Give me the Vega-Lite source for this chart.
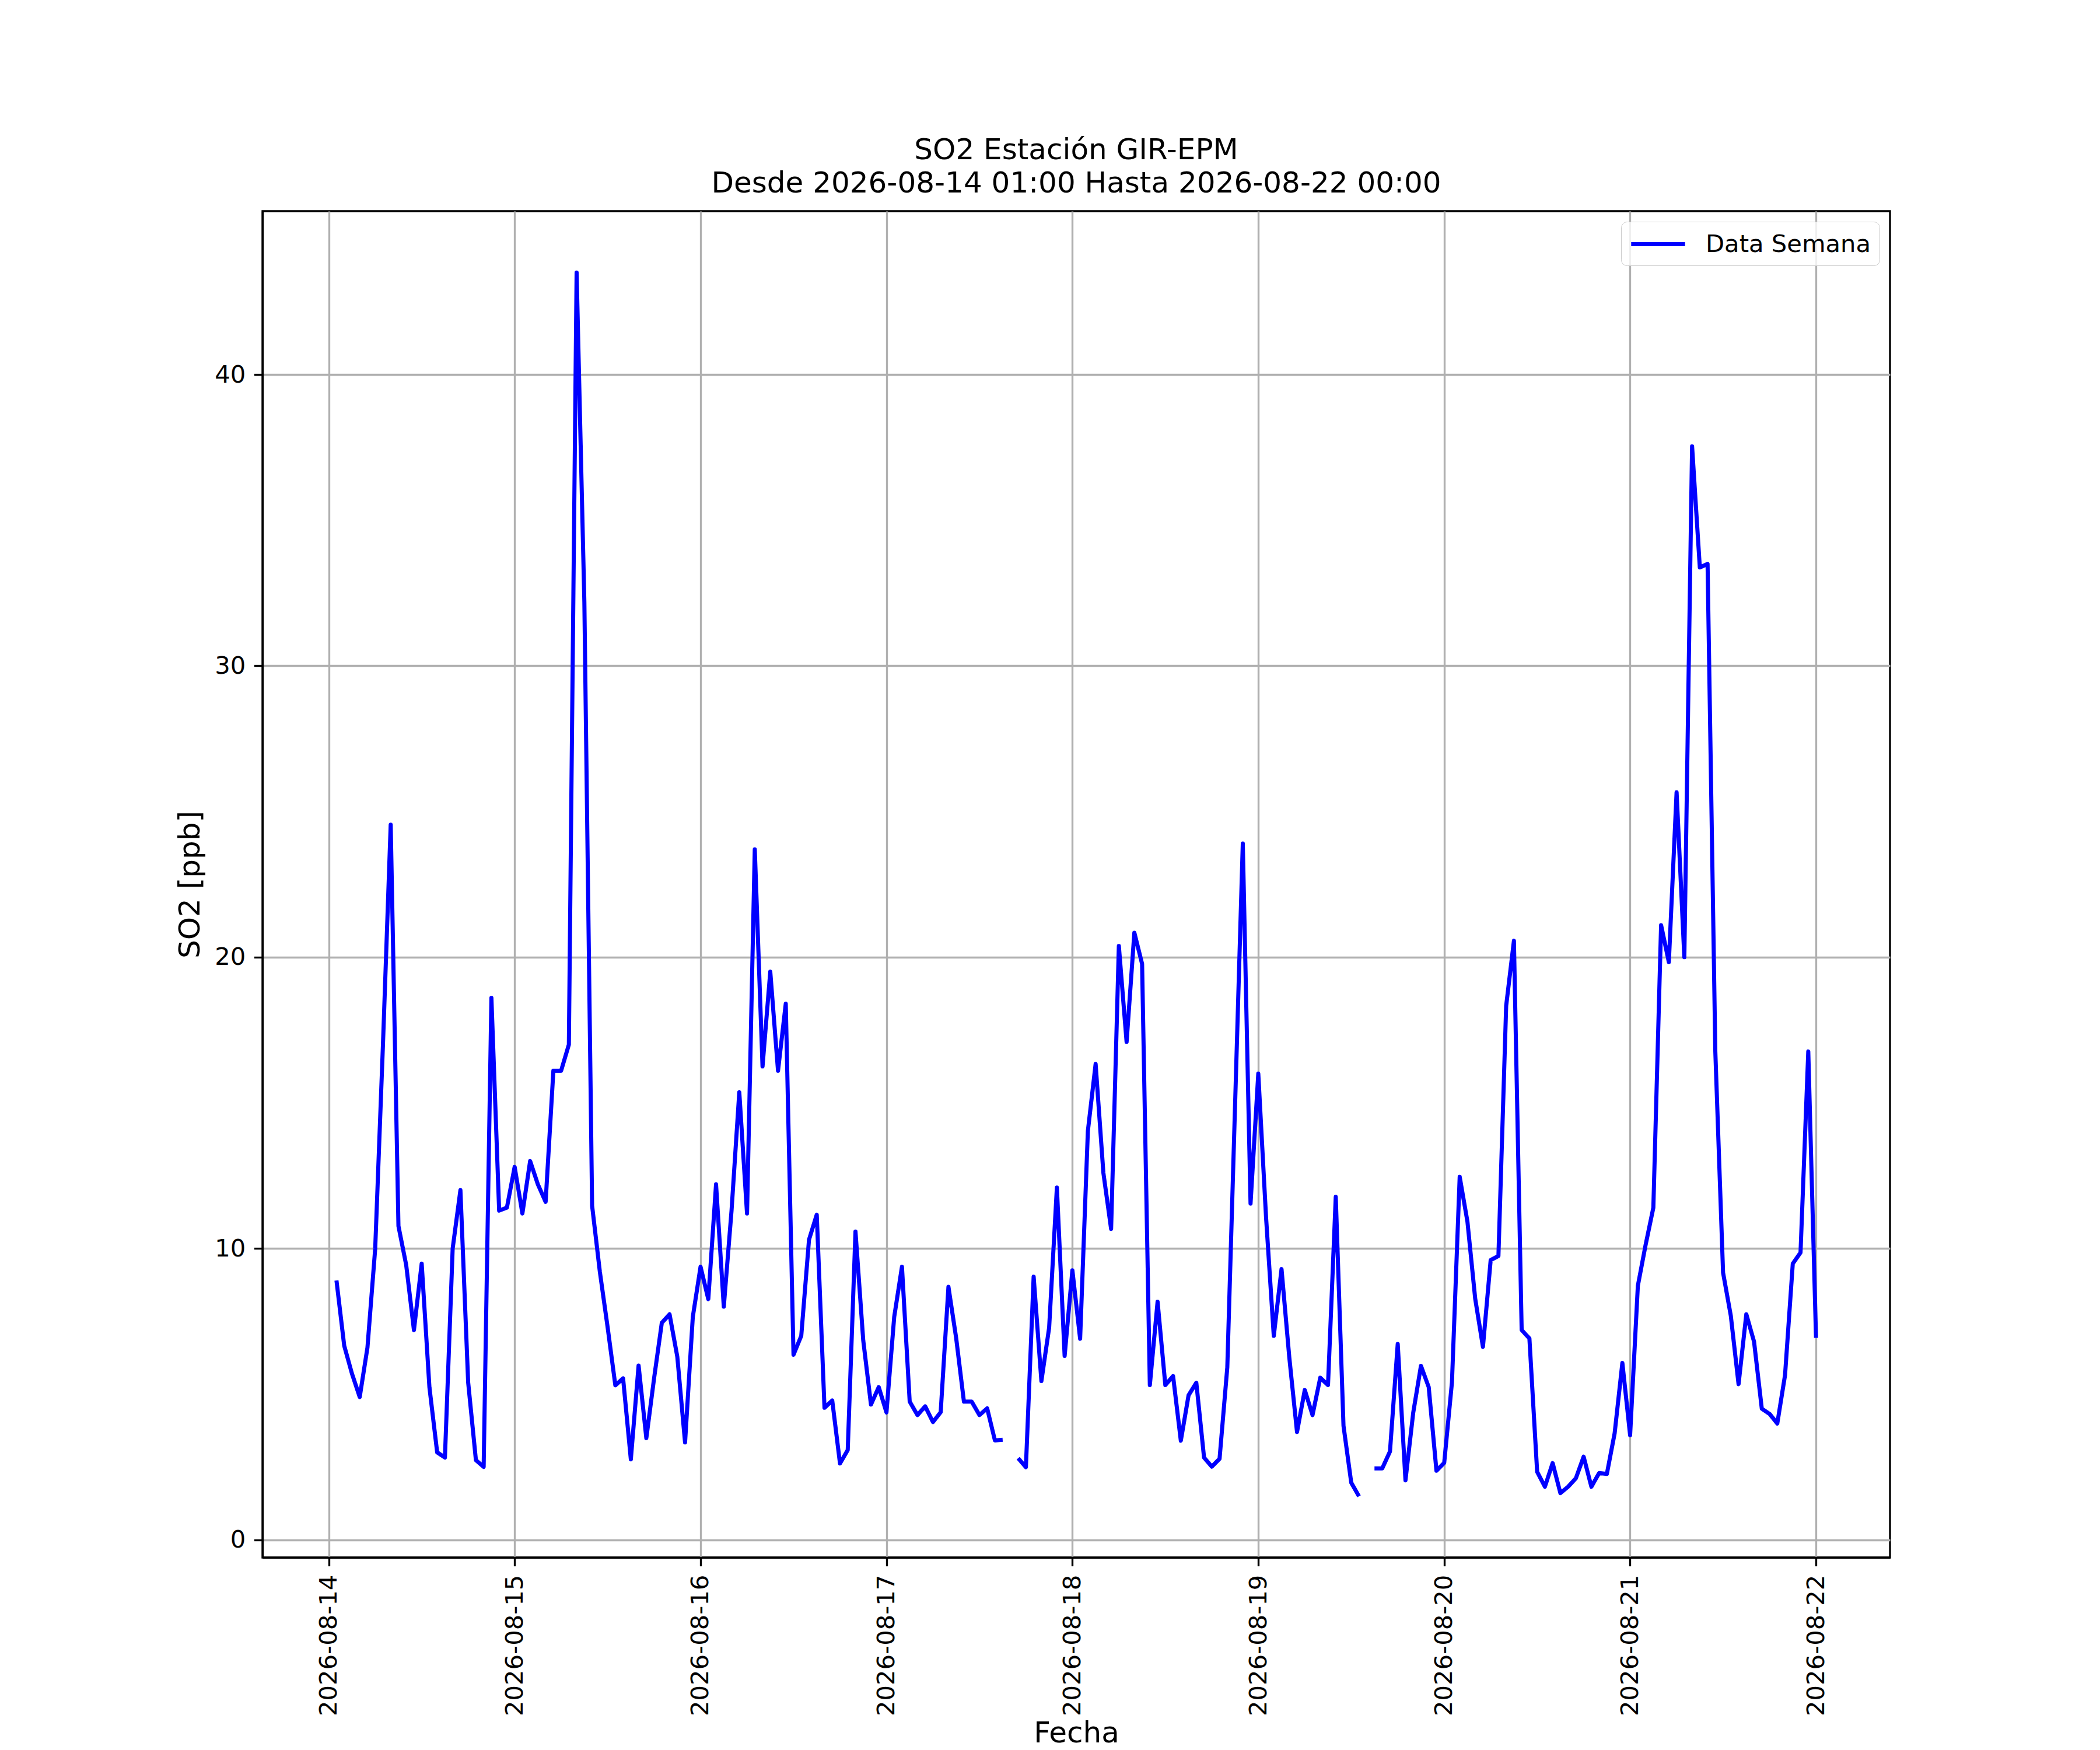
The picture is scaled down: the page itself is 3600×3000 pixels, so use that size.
{
  "$schema": "https://vega.github.io/schema/vega-lite/v6.json",
  "width": 2790,
  "height": 2308,
  "autosize": {"type": "none"},
  "padding": {"left": 450, "top": 362, "right": 360, "bottom": 330},
  "background": "white",
  "title": {
    "text": ["SO2 Estación GIR-EPM", "Desde 2026-08-14 01:00 Hasta 2026-08-22 00:00"],
    "font": "DejaVu Sans", "fontSize": 50, "fontWeight": "normal", "color": "black",
    "anchor": "middle", "frame": "group", "offset": 22, "lineHeight": 57
  },
  "config": {
    "view": {"stroke": "black", "strokeWidth": 3.33},
    "axis": {
      "labelFont": "DejaVu Sans", "labelFontSize": 41.7, "labelColor": "black", "labelLimit": 0,
      "titleFont": "DejaVu Sans", "titleFontSize": 50, "titleFontWeight": "normal", "titleColor": "black",
      "tickColor": "black", "tickSize": 14.6, "tickWidth": 3.33, "labelPadding": 14.6,
      "domainColor": "black", "domainWidth": 3.33,
      "grid": true, "gridColor": "#b0b0b0", "gridWidth": 3.33,
      "labelFlush": false, "labelOverlap": false
    },
    "legend": {
      "labelFont": "DejaVu Sans", "labelFontSize": 41.7, "labelColor": "black", "labelLimit": 0
    }
  },
  "data": {"values": [
    {"t": "2026-08-14T01:00:00Z", "v": 8.9},
    {"t": "2026-08-14T02:00:00Z", "v": 6.66},
    {"t": "2026-08-14T03:00:00Z", "v": 5.7},
    {"t": "2026-08-14T04:00:00Z", "v": 4.9},
    {"t": "2026-08-14T05:00:00Z", "v": 6.6},
    {"t": "2026-08-14T06:00:00Z", "v": 10.0},
    {"t": "2026-08-14T07:00:00Z", "v": 17.0},
    {"t": "2026-08-14T08:00:00Z", "v": 24.55},
    {"t": "2026-08-14T09:00:00Z", "v": 10.77},
    {"t": "2026-08-14T10:00:00Z", "v": 9.43},
    {"t": "2026-08-14T11:00:00Z", "v": 7.2},
    {"t": "2026-08-14T12:00:00Z", "v": 9.48},
    {"t": "2026-08-14T13:00:00Z", "v": 5.23},
    {"t": "2026-08-14T14:00:00Z", "v": 3.0},
    {"t": "2026-08-14T15:00:00Z", "v": 2.82},
    {"t": "2026-08-14T16:00:00Z", "v": 10.0},
    {"t": "2026-08-14T17:00:00Z", "v": 12.0},
    {"t": "2026-08-14T18:00:00Z", "v": 5.4},
    {"t": "2026-08-14T19:00:00Z", "v": 2.73},
    {"t": "2026-08-14T20:00:00Z", "v": 2.5},
    {"t": "2026-08-14T21:00:00Z", "v": 18.6},
    {"t": "2026-08-14T22:00:00Z", "v": 11.3},
    {"t": "2026-08-14T23:00:00Z", "v": 11.4},
    {"t": "2026-08-15T00:00:00Z", "v": 12.8},
    {"t": "2026-08-15T01:00:00Z", "v": 11.2},
    {"t": "2026-08-15T02:00:00Z", "v": 13.0},
    {"t": "2026-08-15T03:00:00Z", "v": 12.2},
    {"t": "2026-08-15T04:00:00Z", "v": 11.6},
    {"t": "2026-08-15T05:00:00Z", "v": 16.1},
    {"t": "2026-08-15T06:00:00Z", "v": 16.1},
    {"t": "2026-08-15T07:00:00Z", "v": 17.0},
    {"t": "2026-08-15T08:00:00Z", "v": 43.5},
    {"t": "2026-08-15T09:00:00Z", "v": 32.2},
    {"t": "2026-08-15T10:00:00Z", "v": 11.47},
    {"t": "2026-08-15T11:00:00Z", "v": 9.2},
    {"t": "2026-08-15T12:00:00Z", "v": 7.3},
    {"t": "2026-08-15T13:00:00Z", "v": 5.3},
    {"t": "2026-08-15T14:00:00Z", "v": 5.54},
    {"t": "2026-08-15T15:00:00Z", "v": 2.76},
    {"t": "2026-08-15T16:00:00Z", "v": 5.98},
    {"t": "2026-08-15T17:00:00Z", "v": 3.49},
    {"t": "2026-08-15T18:00:00Z", "v": 5.54},
    {"t": "2026-08-15T19:00:00Z", "v": 7.45},
    {"t": "2026-08-15T20:00:00Z", "v": 7.74},
    {"t": "2026-08-15T21:00:00Z", "v": 6.28},
    {"t": "2026-08-15T22:00:00Z", "v": 3.34},
    {"t": "2026-08-15T23:00:00Z", "v": 7.65},
    {"t": "2026-08-16T00:00:00Z", "v": 9.37},
    {"t": "2026-08-16T01:00:00Z", "v": 8.26},
    {"t": "2026-08-16T02:00:00Z", "v": 12.2},
    {"t": "2026-08-16T03:00:00Z", "v": 8.0},
    {"t": "2026-08-16T04:00:00Z", "v": 11.3},
    {"t": "2026-08-16T05:00:00Z", "v": 15.36},
    {"t": "2026-08-16T06:00:00Z", "v": 11.2},
    {"t": "2026-08-16T07:00:00Z", "v": 23.7},
    {"t": "2026-08-16T08:00:00Z", "v": 16.25},
    {"t": "2026-08-16T09:00:00Z", "v": 19.5},
    {"t": "2026-08-16T10:00:00Z", "v": 16.1},
    {"t": "2026-08-16T11:00:00Z", "v": 18.4},
    {"t": "2026-08-16T12:00:00Z", "v": 6.35},
    {"t": "2026-08-16T13:00:00Z", "v": 7.0},
    {"t": "2026-08-16T14:00:00Z", "v": 10.3},
    {"t": "2026-08-16T15:00:00Z", "v": 11.16},
    {"t": "2026-08-16T16:00:00Z", "v": 4.53},
    {"t": "2026-08-16T17:00:00Z", "v": 4.78},
    {"t": "2026-08-16T18:00:00Z", "v": 2.62},
    {"t": "2026-08-16T19:00:00Z", "v": 3.08},
    {"t": "2026-08-16T20:00:00Z", "v": 10.58},
    {"t": "2026-08-16T21:00:00Z", "v": 6.85},
    {"t": "2026-08-16T22:00:00Z", "v": 4.64},
    {"t": "2026-08-16T23:00:00Z", "v": 5.24},
    {"t": "2026-08-17T00:00:00Z", "v": 4.37},
    {"t": "2026-08-17T01:00:00Z", "v": 7.65},
    {"t": "2026-08-17T02:00:00Z", "v": 9.37},
    {"t": "2026-08-17T03:00:00Z", "v": 4.74},
    {"t": "2026-08-17T04:00:00Z", "v": 4.28},
    {"t": "2026-08-17T05:00:00Z", "v": 4.58},
    {"t": "2026-08-17T06:00:00Z", "v": 4.04},
    {"t": "2026-08-17T07:00:00Z", "v": 4.38},
    {"t": "2026-08-17T08:00:00Z", "v": 8.68},
    {"t": "2026-08-17T09:00:00Z", "v": 6.92},
    {"t": "2026-08-17T10:00:00Z", "v": 4.74},
    {"t": "2026-08-17T11:00:00Z", "v": 4.74},
    {"t": "2026-08-17T12:00:00Z", "v": 4.28},
    {"t": "2026-08-17T13:00:00Z", "v": 4.51},
    {"t": "2026-08-17T14:00:00Z", "v": 3.41},
    {"t": "2026-08-17T15:00:00Z", "v": 3.43},
    {"t": "2026-08-17T16:00:00Z", "v": null},
    {"t": "2026-08-17T17:00:00Z", "v": 2.8},
    {"t": "2026-08-17T18:00:00Z", "v": 2.49},
    {"t": "2026-08-17T19:00:00Z", "v": 9.03},
    {"t": "2026-08-17T20:00:00Z", "v": 5.45},
    {"t": "2026-08-17T21:00:00Z", "v": 7.28},
    {"t": "2026-08-17T22:00:00Z", "v": 12.09},
    {"t": "2026-08-17T23:00:00Z", "v": 6.31},
    {"t": "2026-08-18T00:00:00Z", "v": 9.25},
    {"t": "2026-08-18T01:00:00Z", "v": 6.9},
    {"t": "2026-08-18T02:00:00Z", "v": 14.03},
    {"t": "2026-08-18T03:00:00Z", "v": 16.33},
    {"t": "2026-08-18T04:00:00Z", "v": 12.6},
    {"t": "2026-08-18T05:00:00Z", "v": 10.67},
    {"t": "2026-08-18T06:00:00Z", "v": 20.38},
    {"t": "2026-08-18T07:00:00Z", "v": 17.09},
    {"t": "2026-08-18T08:00:00Z", "v": 20.84},
    {"t": "2026-08-18T09:00:00Z", "v": 19.77},
    {"t": "2026-08-18T10:00:00Z", "v": 5.31},
    {"t": "2026-08-18T11:00:00Z", "v": 8.17},
    {"t": "2026-08-18T12:00:00Z", "v": 5.31},
    {"t": "2026-08-18T13:00:00Z", "v": 5.62},
    {"t": "2026-08-18T14:00:00Z", "v": 3.4},
    {"t": "2026-08-18T15:00:00Z", "v": 4.96},
    {"t": "2026-08-18T16:00:00Z", "v": 5.39},
    {"t": "2026-08-18T17:00:00Z", "v": 2.82},
    {"t": "2026-08-18T18:00:00Z", "v": 2.51},
    {"t": "2026-08-18T19:00:00Z", "v": 2.78},
    {"t": "2026-08-18T20:00:00Z", "v": 5.92},
    {"t": "2026-08-18T21:00:00Z", "v": 14.9},
    {"t": "2026-08-18T22:00:00Z", "v": 23.9},
    {"t": "2026-08-18T23:00:00Z", "v": 11.54},
    {"t": "2026-08-19T00:00:00Z", "v": 16.0},
    {"t": "2026-08-19T01:00:00Z", "v": 11.08},
    {"t": "2026-08-19T02:00:00Z", "v": 7.0},
    {"t": "2026-08-19T03:00:00Z", "v": 9.29},
    {"t": "2026-08-19T04:00:00Z", "v": 6.27},
    {"t": "2026-08-19T05:00:00Z", "v": 3.7},
    {"t": "2026-08-19T06:00:00Z", "v": 5.14},
    {"t": "2026-08-19T07:00:00Z", "v": 4.28},
    {"t": "2026-08-19T08:00:00Z", "v": 5.56},
    {"t": "2026-08-19T09:00:00Z", "v": 5.31},
    {"t": "2026-08-19T10:00:00Z", "v": 11.77},
    {"t": "2026-08-19T11:00:00Z", "v": 3.91},
    {"t": "2026-08-19T12:00:00Z", "v": 1.96},
    {"t": "2026-08-19T13:00:00Z", "v": 1.49},
    {"t": "2026-08-19T14:00:00Z", "v": null},
    {"t": "2026-08-19T15:00:00Z", "v": 2.45},
    {"t": "2026-08-19T16:00:00Z", "v": 2.45},
    {"t": "2026-08-19T17:00:00Z", "v": 3.03},
    {"t": "2026-08-19T18:00:00Z", "v": 6.72},
    {"t": "2026-08-19T19:00:00Z", "v": 2.04},
    {"t": "2026-08-19T20:00:00Z", "v": 4.36},
    {"t": "2026-08-19T21:00:00Z", "v": 5.97},
    {"t": "2026-08-19T22:00:00Z", "v": 5.24},
    {"t": "2026-08-19T23:00:00Z", "v": 2.37},
    {"t": "2026-08-20T00:00:00Z", "v": 2.64},
    {"t": "2026-08-20T01:00:00Z", "v": 5.4},
    {"t": "2026-08-20T02:00:00Z", "v": 12.46},
    {"t": "2026-08-20T03:00:00Z", "v": 10.92},
    {"t": "2026-08-20T04:00:00Z", "v": 8.28},
    {"t": "2026-08-20T05:00:00Z", "v": 6.62},
    {"t": "2026-08-20T06:00:00Z", "v": 9.6},
    {"t": "2026-08-20T07:00:00Z", "v": 9.74},
    {"t": "2026-08-20T08:00:00Z", "v": 18.33},
    {"t": "2026-08-20T09:00:00Z", "v": 20.56},
    {"t": "2026-08-20T10:00:00Z", "v": 7.2},
    {"t": "2026-08-20T11:00:00Z", "v": 6.91},
    {"t": "2026-08-20T12:00:00Z", "v": 2.33},
    {"t": "2026-08-20T13:00:00Z", "v": 1.82},
    {"t": "2026-08-20T14:00:00Z", "v": 2.63},
    {"t": "2026-08-20T15:00:00Z", "v": 1.6},
    {"t": "2026-08-20T16:00:00Z", "v": 1.82},
    {"t": "2026-08-20T17:00:00Z", "v": 2.11},
    {"t": "2026-08-20T18:00:00Z", "v": 2.85},
    {"t": "2026-08-20T19:00:00Z", "v": 1.82},
    {"t": "2026-08-20T20:00:00Z", "v": 2.29},
    {"t": "2026-08-20T21:00:00Z", "v": 2.26},
    {"t": "2026-08-20T22:00:00Z", "v": 3.65},
    {"t": "2026-08-20T23:00:00Z", "v": 6.07},
    {"t": "2026-08-21T00:00:00Z", "v": 3.59},
    {"t": "2026-08-21T01:00:00Z", "v": 8.72},
    {"t": "2026-08-21T02:00:00Z", "v": 10.12},
    {"t": "2026-08-21T03:00:00Z", "v": 11.4},
    {"t": "2026-08-21T04:00:00Z", "v": 21.1},
    {"t": "2026-08-21T05:00:00Z", "v": 19.83},
    {"t": "2026-08-21T06:00:00Z", "v": 25.66},
    {"t": "2026-08-21T07:00:00Z", "v": 20.0},
    {"t": "2026-08-21T08:00:00Z", "v": 37.54},
    {"t": "2026-08-21T09:00:00Z", "v": 33.38},
    {"t": "2026-08-21T10:00:00Z", "v": 33.5},
    {"t": "2026-08-21T11:00:00Z", "v": 16.76},
    {"t": "2026-08-21T12:00:00Z", "v": 9.17},
    {"t": "2026-08-21T13:00:00Z", "v": 7.69},
    {"t": "2026-08-21T14:00:00Z", "v": 5.34},
    {"t": "2026-08-21T15:00:00Z", "v": 7.74},
    {"t": "2026-08-21T16:00:00Z", "v": 6.8},
    {"t": "2026-08-21T17:00:00Z", "v": 4.5},
    {"t": "2026-08-21T18:00:00Z", "v": 4.32},
    {"t": "2026-08-21T19:00:00Z", "v": 3.99},
    {"t": "2026-08-21T20:00:00Z", "v": 5.65},
    {"t": "2026-08-21T21:00:00Z", "v": 9.48},
    {"t": "2026-08-21T22:00:00Z", "v": 9.86},
    {"t": "2026-08-21T23:00:00Z", "v": 16.76},
    {"t": "2026-08-22T00:00:00Z", "v": 6.93}
  ]},
  "mark": {"type": "line", "strokeWidth": 7, "strokeJoin": "round", "strokeCap": "butt", "invalid": "break-paths-filter-domains", "clip": true},
  "encoding": {
    "x": {
      "field": "t", "type": "temporal", "title": "Fecha",
      "scale": {"type": "utc", "nice": false, "domain": [
        {"year": 2026, "month": 8, "date": 13, "hours": 15, "minutes": 27, "utc": true},
        {"year": 2026, "month": 8, "date": 22, "hours": 9, "minutes": 33, "utc": true}
      ]},
      "axis": {
        "format": "%Y-%m-%d", "labelAngle": 270, "labelAlign": "right", "labelBaseline": "middle",
        "titlePadding": 76,
        "values": [
          {"year": 2026, "month": 8, "date": 14, "utc": true},
          {"year": 2026, "month": 8, "date": 15, "utc": true},
          {"year": 2026, "month": 8, "date": 16, "utc": true},
          {"year": 2026, "month": 8, "date": 17, "utc": true},
          {"year": 2026, "month": 8, "date": 18, "utc": true},
          {"year": 2026, "month": 8, "date": 19, "utc": true},
          {"year": 2026, "month": 8, "date": 20, "utc": true},
          {"year": 2026, "month": 8, "date": 21, "utc": true},
          {"year": 2026, "month": 8, "date": 22, "utc": true}
        ]
      }
    },
    "y": {
      "field": "v", "type": "quantitative", "title": "SO2 [ppb]",
      "scale": {"domain": [-0.61, 45.61], "nice": false, "zero": false},
      "axis": {"values": [0, 10, 20, 30, 40], "titlePadding": 16}
    },
    "color": {
      "datum": "Data Semana", "type": "nominal",
      "scale": {"range": ["#0000ff"]},
      "legend": {
        "title": null, "orient": "top-right", "offset": 18,
        "symbolType": "M-2.2,0H2.2", "symbolSize": 1764, "symbolStrokeWidth": 7, "symbolOffset": 25,
        "labelOffset": 57, "padding": 14, "cornerRadius": 10,
        "strokeColor": "#cccccc", "fillColor": "rgba(255,255,255,0.8)",
        "labelFontSize": 41.7, "labelFont": "DejaVu Sans", "labelLimit": 0
      }
    }
  }
}
